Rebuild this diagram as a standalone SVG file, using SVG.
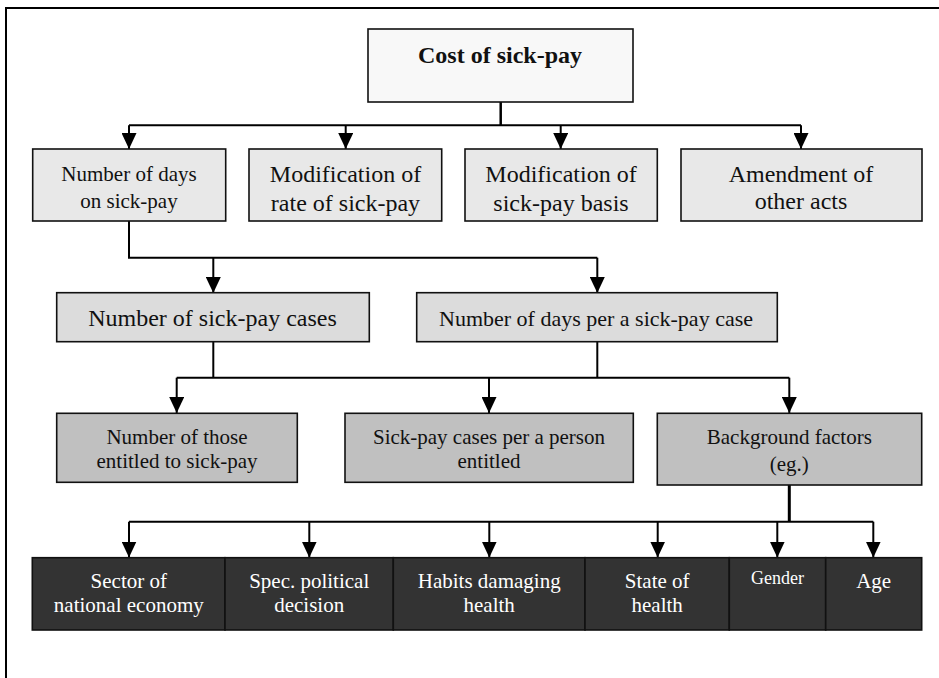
<svg xmlns="http://www.w3.org/2000/svg" width="939" height="678" viewBox="0 0 939 678">
<style>
text{font-family:'Liberation Serif','Times New Roman',Tinos,'DejaVu Serif',serif;text-anchor:middle;fill:#111}
.box{stroke:#111;stroke-width:1.6}
.top{fill:#f8f8f8}
.l1{fill:#e8e8e8}
.l2{fill:#dcdcdc}
.l3{fill:#c0c0c0}
.dk{fill:#333333}
.dk-t{fill:#ffffff}
.con{fill:none;stroke:#000;stroke-width:2}
.arr{fill:none;stroke:#000;stroke-width:2;marker-end:url(#ah)}
</style>
<defs>
<marker id="ah" markerUnits="userSpaceOnUse" viewBox="0 0 16 15" refX="16" refY="7.5" markerWidth="16" markerHeight="15" orient="auto">
<path d="M0,0 L16,7.5 L0,15 z" fill="#000"/>
</marker>
</defs>
<rect x="0" y="0" width="939" height="678" fill="#ffffff"/>
<path d="M6,680 V8 H941" fill="none" stroke="#000" stroke-width="2"/>

<g id="connectors">
<path class="con" d="M500.7,101.7 V125.3" style="stroke-width:2.5"/>
<path class="con" d="M129,125.3 H801"/>
<path class="arr" d="M129,125.3 V149"/>
<path class="arr" d="M345.7,125.3 V149"/>
<path class="arr" d="M560.7,125.3 V149"/>
<path class="arr" d="M801,125.3 V149"/>

<path class="con" d="M129,221 V257.7 H597.3"/>
<path class="arr" d="M213.3,257.7 V293"/>
<path class="arr" d="M597.3,257.7 V293"/>

<path class="con" d="M213.3,341.7 V377.7"/>
<path class="con" d="M597.3,341.7 V377.7"/>
<path class="con" d="M176.7,377.7 H789.3"/>
<path class="arr" d="M176.7,377.7 V413"/>
<path class="arr" d="M489,377.7 V413"/>
<path class="arr" d="M789.3,377.7 V413"/>

<path class="con" d="M789.3,485 V521.7" style="stroke-width:3"/>
<path class="con" d="M129,521.7 H873.3"/>
<path class="arr" d="M129,521.7 V557.5"/>
<path class="arr" d="M309.3,521.7 V557.5"/>
<path class="arr" d="M489.3,521.7 V557.5"/>
<path class="arr" d="M657.7,521.7 V557.5"/>
<path class="arr" d="M777.3,521.7 V557.5"/>
<path class="arr" d="M873.3,521.7 V557.5"/>
</g>

<g id="cost">
<rect class="box top" x="368" y="29" width="265" height="73"/>
<text x="500" y="63" font-size="24" font-weight="bold">Cost of sick-pay</text>
</g>

<g id="days-on-sick-pay">
<rect class="box l1" x="32.7" y="149" width="193" height="72"/>
<text x="129" y="181" font-size="21">Number of days</text>
<text x="129" y="208" font-size="21">on sick-pay</text>
</g>
<g id="mod-rate">
<rect class="box l1" x="249" y="149" width="192.7" height="72"/>
<text x="345.5" y="182" font-size="24">Modification of</text>
<text x="345.5" y="211" font-size="24">rate of sick-pay</text>
</g>
<g id="mod-basis">
<rect class="box l1" x="465" y="149" width="192.3" height="72"/>
<text x="561" y="182" font-size="24">Modification of</text>
<text x="561" y="211" font-size="24">sick-pay basis</text>
</g>
<g id="amendment">
<rect class="box l1" x="681" y="149" width="241" height="72"/>
<text x="801" y="182" font-size="24">Amendment of</text>
<text x="801" y="209" font-size="24">other acts</text>
</g>

<g id="sick-pay-cases">
<rect class="box l2" x="56.7" y="292.7" width="312.6" height="49"/>
<text x="212.5" y="326" font-size="24">Number of sick-pay cases</text>
</g>
<g id="days-per-case">
<rect class="box l2" x="416.7" y="292.7" width="360.6" height="49"/>
<text x="596" y="326" font-size="22">Number of days per a sick-pay case</text>
</g>

<g id="entitled">
<rect class="box l3" x="56.7" y="413.3" width="240.6" height="69"/>
<text x="177" y="443.5" font-size="21">Number of those</text>
<text x="177" y="467.5" font-size="21">entitled to sick-pay</text>
</g>
<g id="cases-per-person">
<rect class="box l3" x="345" y="413.3" width="288.3" height="69"/>
<text x="489" y="444" font-size="21">Sick-pay cases per a person</text>
<text x="489" y="467.5" font-size="21">entitled</text>
</g>
<g id="background">
<rect class="box l3" x="657.3" y="413.3" width="264.4" height="71.7"/>
<text x="789.3" y="444" font-size="21">Background factors</text>
<text x="789.3" y="471" font-size="21">(eg.)</text>
</g>

<g id="sector">
<rect class="box dk" x="32.3" y="557.7" width="192.7" height="72.3"/>
<text class="dk-t" x="128.8" y="587.5" font-size="21">Sector of</text>
<text class="dk-t" x="128.8" y="611.7" font-size="21">national economy</text>
</g>
<g id="political">
<rect class="box dk" x="225" y="557.7" width="168.3" height="72.3"/>
<text class="dk-t" x="309.2" y="587.5" font-size="21">Spec. political</text>
<text class="dk-t" x="309.2" y="611.7" font-size="21">decision</text>
</g>
<g id="habits">
<rect class="box dk" x="393.3" y="557.7" width="191.7" height="72.3"/>
<text class="dk-t" x="489.2" y="587.5" font-size="21">Habits damaging</text>
<text class="dk-t" x="489.2" y="611.7" font-size="21">health</text>
</g>
<g id="state">
<rect class="box dk" x="585" y="557.7" width="144.3" height="72.3"/>
<text class="dk-t" x="657.2" y="587.5" font-size="21">State of</text>
<text class="dk-t" x="657.2" y="611.7" font-size="21">health</text>
</g>
<g id="gender">
<rect class="box dk" x="729.3" y="557.7" width="96.4" height="72.3"/>
<text class="dk-t" x="777.5" y="584" font-size="18">Gender</text>
</g>
<g id="age">
<rect class="box dk" x="825.7" y="557.7" width="96" height="72.3"/>
<text class="dk-t" x="873.7" y="588" font-size="21">Age</text>
</g>
</svg>
